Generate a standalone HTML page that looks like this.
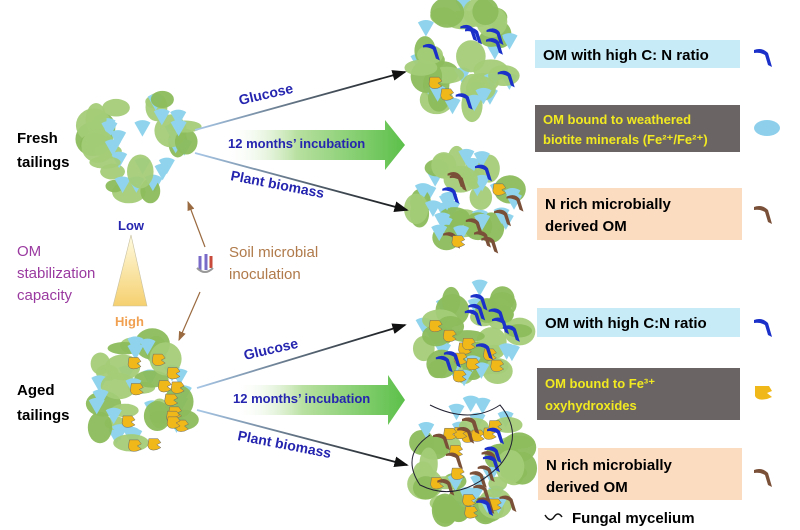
<!DOCTYPE html>
<html><head><meta charset="utf-8"><style>
body{margin:0;background:#fff;}
svg{display:block;font-family:"Liberation Sans",sans-serif;}
.b{font-weight:bold;}
</style></head><body>
<svg id="s" width="800" height="530" viewBox="0 0 800 530" xmlns="http://www.w3.org/2000/svg">
<defs>
<linearGradient id="ga" x1="0" x2="1"><stop offset="0" stop-color="#fff" stop-opacity="0"/><stop offset="0.4" stop-color="#b8e0a0"/><stop offset="1" stop-color="#5cc04a"/></linearGradient>
<linearGradient id="ln" x1="0" x2="1"><stop offset="0" stop-color="#a8c8e8"/><stop offset="1" stop-color="#111"/></linearGradient>
<linearGradient id="tri" x1="0" y1="0" x2="0" y2="1"><stop offset="0" stop-color="#fffbe0"/><stop offset="1" stop-color="#f5d070"/></linearGradient>
<marker id="ah" markerWidth="8" markerHeight="8" refX="7" refY="4" orient="auto"><path d="M0,1 L8,4 L0,7z" fill="#111"/></marker>
<marker id="bh" markerWidth="8" markerHeight="8" refX="7" refY="4" orient="auto"><path d="M0,1 L8,4 L0,7z" fill="#9a6a40"/></marker>
</defs>
<g id="clusters"></g>
<path d="M225,130 L385,130 L385,120 L405,145 L385,170 L385,160 L225,160z" fill="url(#ga)"/>
<line x1="195" y1="130" x2="405" y2="72" stroke="url(#ln)" stroke-width="1.8" marker-end="url(#ah)"/>
<line x1="195" y1="153" x2="407" y2="210" stroke="url(#ln)" stroke-width="1.8" marker-end="url(#ah)"/>
<text x="240" y="105" transform="rotate(-13 240 105)" fill="#2525b0" class="b" font-size="14">Glucose</text>
<text x="228" y="148" fill="#2525b0" class="b" font-size="13">12 months’ incubation</text>
<text x="230" y="180" transform="rotate(11 230 180)" fill="#2525b0" class="b" font-size="14">Plant biomass</text>
<path d="M235,385 L388,385 L388,375 L405,400 L388,425 L388,415 L235,415z" fill="url(#ga)"/>
<line x1="197" y1="388" x2="405" y2="325" stroke="url(#ln)" stroke-width="1.8" marker-end="url(#ah)"/>
<line x1="197" y1="410" x2="407" y2="465" stroke="url(#ln)" stroke-width="1.8" marker-end="url(#ah)"/>
<text x="245" y="360" transform="rotate(-13 245 360)" fill="#2525b0" class="b" font-size="14">Glucose</text>
<text x="233" y="403" fill="#2525b0" class="b" font-size="13">12 months’ incubation</text>
<text x="237" y="440" transform="rotate(11 237 440)" fill="#2525b0" class="b" font-size="14">Plant biomass</text>
<text x="17" y="143" class="b" font-size="15">Fresh</text>
<text x="17" y="167" class="b" font-size="15">tailings</text>
<text x="17" y="395" class="b" font-size="15">Aged</text>
<text x="17" y="420" class="b" font-size="15">tailings</text>
<text x="118" y="230" class="b" font-size="13" fill="#2525b0">Low</text>
<path d="M131,235 L113,306 L147,306z" fill="url(#tri)" stroke="#c8c0a0" stroke-width="0.6"/>
<text x="115" y="326" class="b" font-size="13" fill="#f0a050">High</text>
<g fill="#9a3aa0" font-size="15"><text x="17" y="256">OM</text><text x="17" y="278">stabilization</text><text x="17" y="300">capacity</text></g>
<g fill="#b07a4a" font-size="15"><text x="229" y="257">Soil microbial</text><text x="229" y="279">inoculation</text></g>
<path d="M200,256 v14 M206,254 v16" stroke="#7a6ac8" stroke-width="3"/><path d="M211,256 v12" stroke="#c84a3a" stroke-width="3"/><path d="M197,268 q8,8 16,0" stroke="#999" stroke-width="2" fill="none"/>
<line x1="205" y1="247" x2="188" y2="202" stroke="#9a6a40" stroke-width="1.2" marker-end="url(#bh)"/>
<line x1="200" y1="292" x2="179" y2="340" stroke="#9a6a40" stroke-width="1.2" marker-end="url(#bh)"/>
<rect x="535" y="40" width="205" height="28" fill="#c7ecf7"/>
<text x="543" y="60" class="b" font-size="15">OM with high C: N ratio</text>
<rect x="535" y="105" width="205" height="47" fill="#6a6464"/>
<g fill="#f2ea20" class="b" font-size="13"><text x="543" y="124">OM bound to weathered</text><text x="543" y="144">biotite minerals (Fe²⁺/Fe²⁺)</text></g>
<rect x="537" y="188" width="205" height="52" fill="#fcdcc0"/>
<g class="b" font-size="15"><text x="545" y="209">N rich microbially</text><text x="545" y="231">derived OM</text></g>
<rect x="537" y="308" width="203" height="29" fill="#c7ecf7"/>
<text x="545" y="328" class="b" font-size="15">OM with high C:N ratio</text>
<rect x="537" y="368" width="203" height="52" fill="#6a6464"/>
<g fill="#f2ea20" class="b" font-size="13"><text x="545" y="388">OM bound to Fe³⁺</text><text x="545" y="410">oxyhydroxides</text></g>
<rect x="538" y="448" width="204" height="52" fill="#fcdcc0"/>
<g class="b" font-size="15"><text x="546" y="470">N rich microbially</text><text x="546" y="492">derived OM</text></g>
<path d="M545,515 q5,8 9,2 q4,-6 8,0" stroke="#111" stroke-width="1.5" fill="none"/>
<text x="572" y="523" class="b" font-size="15">Fungal mycelium</text>
<path d="M754,50 q8,-3 14,3 l4,14 -4,-2 -3,-10 q-5,-3 -11,-2z" fill="#1a30c8"/>
<ellipse cx="767" cy="128" rx="13" ry="8" fill="#8ed0ec"/>
<path d="M754,207 q8,-3 14,3 l4,14 -4,-2 -3,-10 q-5,-3 -11,-2z" fill="#7a5038"/>
<path d="M754,320 q8,-3 14,3 l4,14 -4,-2 -3,-10 q-5,-3 -11,-2z" fill="#1a30c8"/>
<path d="M755,386 h14 l3,5 -5,2 5,4 -5,2 q-10,2 -12,-3z" fill="#f0b818"/>
<path d="M754,470 q8,-3 14,3 l4,14 -4,-2 -3,-10 q-5,-3 -11,-2z" fill="#7a5038"/>
</svg>
<script>
var g=document.getElementById('clusters'),seed=11;
function r(){seed=(seed*16807)%2147483647;return seed/2147483647;}
function add(tag,at){var e=document.createElementNS('http://www.w3.org/2000/svg',tag);for(var k in at)e.setAttribute(k,at[k]);g.appendChild(e);}
function cl(cx,cy,rx,ry,n,ex){
 for(var i=0;i<n;i++){var a=r()*6.28,d=Math.pow(r(),0.35);var x=cx+Math.cos(a)*rx*d,y=cy+Math.sin(a)*ry*d;
  if(r()<0.55)add('ellipse',{cx:x,cy:y,rx:9+r()*9,ry:6+r()*11,fill:r()<0.5?'#8cbc5c':'#a4cc78',opacity:0.95});
  else add('path',{d:'M'+(x-8)+','+(y-6)+' q8,-5 16,0 l-8,14z',fill:'#8fd4ec'});}
 for(var j=0;j<ex.length;j++){var t=ex[j];for(var i=0;i<t[1];i++){var a=r()*6.28,d=Math.pow(r(),0.4)*0.85;var x=cx+Math.cos(a)*rx*d,y=cy+Math.sin(a)*ry*d;
  if(t[0]=='y')add('path',{d:'M'+x+','+y+' h9 l3,4 -4,2 4,3 -4,2 q-8,2 -9,-4z',fill:'#f0b818',stroke:'#6a6a6a','stroke-width':0.5});
  else add('path',{d:'M'+x+','+y+' q8,-4 13,2 l4,13 -4,-2 -3,-9 q-5,-3 -10,-2z',fill:t[0]=='b'?'#1a30c8':'#7a5038'});}}
}
cl(140,142,50,55,42,[]);
cl(140,397,50,55,42,[['y',14]]);
cl(463,60,52,55,44,[['b',7],['y',2]]);
cl(465,200,52,50,44,[['r',8],['b',2],['y',2]]);
cl(468,333,52,48,42,[['y',9],['b',9]]);
cl(470,460,55,58,48,[['y',12],['r',12],['b',4]]);
add('path',{d:'M430,405 q40,20 70,0 q25,30 0,60 q-40,40 -80,20 q-20,-30 10,-50',fill:'none',stroke:'#223','stroke-width':1});
</script>
</body></html>
